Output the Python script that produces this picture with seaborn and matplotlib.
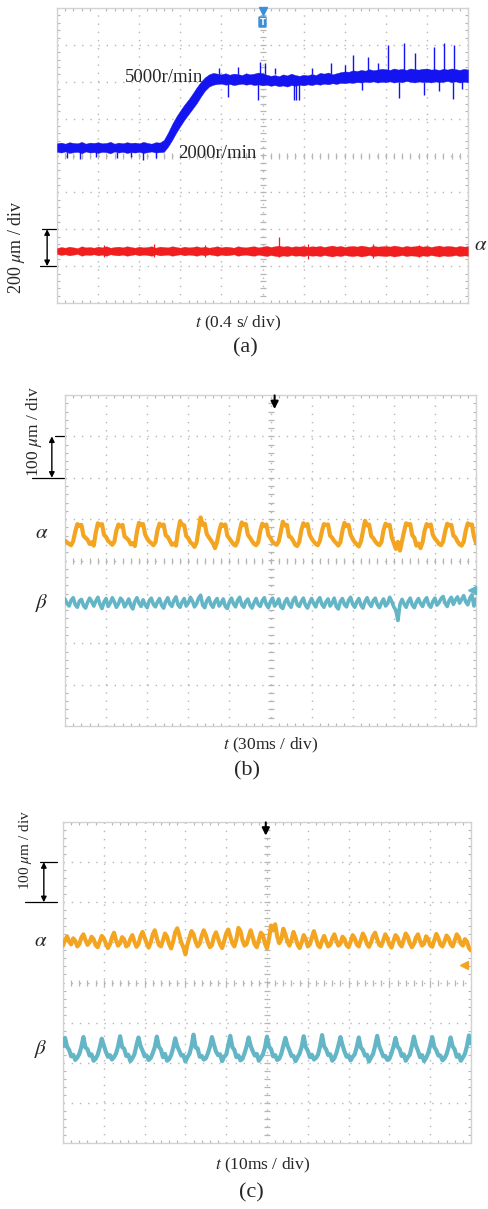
import numpy as np
import pandas as pd
import matplotlib
matplotlib.use("Agg")
import matplotlib.pyplot as plt
from matplotlib.ticker import MultipleLocator
import seaborn as sns

# ---------------- data (screen divisions) ----------------
# panel (a): 10 div x 8 div, samples every 0.1 div
t_a = [round(0.1 * i, 1) for i in range(101)]
blue_hi = [0.33,0.35,0.32,0.36,0.34,0.33,0.37,0.32,0.35,0.34,
           0.36,0.33,0.34,0.37,0.32,0.35,0.33,0.36,0.34,0.35,
           0.33,0.37,0.34,0.32,0.36,0.35,0.42,0.62,0.85,1.05,
           1.22,1.38,1.52,1.68,1.85,2.00,2.12,2.20,2.24,2.22,
           2.20,2.23,2.19,2.22,2.21,2.18,2.23,2.20,2.22,2.25,
           2.23,2.19,2.16,2.18,2.15,2.20,2.17,2.22,2.18,2.16,
           2.19,2.17,2.21,2.18,2.24,2.22,2.25,2.20,2.23,2.26,
           2.28,2.27,2.31,2.29,2.32,2.30,2.34,2.31,2.33,2.35,
           2.34,2.32,2.36,2.33,2.35,2.32,2.36,2.34,2.33,2.35,
           2.36,2.33,2.34,2.32,2.35,2.33,2.36,2.34,2.32,2.35,
           2.33]
blue_lo = [0.10,0.08,0.11,0.07,0.09,0.10,0.06,0.11,0.08,0.09,
           0.07,0.10,0.09,0.06,0.11,0.08,0.10,0.07,0.09,0.08,
           0.10,0.07,0.09,0.11,0.08,0.09,0.10,0.24,0.42,0.62,
           0.80,0.97,1.12,1.27,1.42,1.60,1.76,1.87,1.92,1.94,
           1.95,1.92,1.94,1.91,1.93,1.95,1.92,1.94,1.91,1.93,
           1.90,1.92,1.89,1.91,1.88,1.90,1.87,1.91,1.89,1.92,
           1.90,1.93,1.91,1.94,1.92,1.95,1.93,1.96,1.94,1.97,
           1.96,1.98,1.97,1.99,1.98,2.00,1.99,2.01,1.98,2.00,
           1.99,2.01,1.98,2.00,1.99,2.02,2.00,1.98,2.01,1.99,
           2.00,1.98,2.01,1.99,2.00,2.02,1.99,2.01,1.98,2.00,
           1.99]
spike_x  = [0.25, 0.55, 0.95, 1.45, 1.80, 2.10, 2.40, 3.93, 4.17, 4.40, 4.88, 4.95, 5.05,
            5.30, 5.76, 5.82, 5.88, 6.20, 6.66, 7.00, 7.20, 7.43, 7.56, 7.80, 8.05, 8.32,
            8.44, 8.70, 8.93, 9.17, 9.30, 9.42, 9.63, 9.66, 9.85]
spike_lo = [-0.06, -0.10, -0.05, -0.08, -0.04, -0.12, -0.06, 2.20, 1.58, 2.20, 1.50, 2.20, 2.20,
            2.20, 1.50, 1.50, 1.50, 2.20, 2.20, 2.25, 2.30, 1.77, 2.30, 2.30, 2.30, 1.55,
            2.30, 2.30, 1.63, 2.30, 1.75, 2.30, 1.52, 2.30, 1.80]
spike_hi = [0.10, 0.10, 0.10, 0.10, 0.10, 0.10, 0.10, 2.37, 2.00, 2.40, 2.00, 2.53, 2.50,
            2.38, 2.00, 2.00, 2.00, 2.36, 2.50, 2.45, 2.72, 2.00, 2.67, 2.52, 3.00, 2.00,
            3.05, 2.77, 2.00, 2.94, 2.05, 3.05, 2.00, 3.00, 2.05]
red_hi = [-2.51,-2.48,-2.50,-2.47,-2.49,-2.51,-2.46,-2.49,-2.48,-2.50,
          -2.47,-2.49,-2.46,-2.50,-2.48,-2.47,-2.49,-2.46,-2.48,-2.50,
          -2.47,-2.49,-2.48,-2.46,-2.50,-2.47,-2.48,-2.49,-2.46,-2.48,
          -2.50,-2.47,-2.49,-2.48,-2.46,-2.49,-2.47,-2.50,-2.48,-2.46,
          -2.49,-2.47,-2.48,-2.50,-2.46,-2.48,-2.49,-2.47,-2.46,-2.49,
          -2.47,-2.45,-2.48,-2.46,-2.44,-2.47,-2.45,-2.48,-2.46,-2.47,
          -2.45,-2.48,-2.46,-2.47,-2.45,-2.48,-2.46,-2.44,-2.47,-2.45,
          -2.48,-2.46,-2.45,-2.47,-2.44,-2.46,-2.48,-2.45,-2.47,-2.46,
          -2.45,-2.47,-2.44,-2.46,-2.48,-2.45,-2.47,-2.46,-2.44,-2.47,
          -2.45,-2.48,-2.46,-2.44,-2.47,-2.45,-2.46,-2.48,-2.45,-2.47,
          -2.46]
red_lo = [-2.67,-2.70,-2.68,-2.71,-2.69,-2.67,-2.72,-2.69,-2.70,-2.68,
          -2.71,-2.69,-2.72,-2.68,-2.70,-2.71,-2.69,-2.72,-2.70,-2.68,
          -2.71,-2.69,-2.70,-2.72,-2.68,-2.71,-2.70,-2.69,-2.72,-2.70,
          -2.68,-2.71,-2.69,-2.70,-2.72,-2.69,-2.71,-2.68,-2.70,-2.72,
          -2.69,-2.71,-2.70,-2.68,-2.72,-2.70,-2.69,-2.71,-2.72,-2.69,
          -2.71,-2.73,-2.70,-2.72,-2.74,-2.71,-2.73,-2.70,-2.72,-2.71,
          -2.73,-2.70,-2.72,-2.71,-2.73,-2.70,-2.72,-2.74,-2.71,-2.73,
          -2.70,-2.72,-2.73,-2.71,-2.74,-2.72,-2.70,-2.73,-2.71,-2.72,
          -2.73,-2.71,-2.74,-2.72,-2.70,-2.73,-2.71,-2.72,-2.74,-2.71,
          -2.73,-2.70,-2.72,-2.74,-2.71,-2.73,-2.72,-2.70,-2.73,-2.71,
          -2.72]
red_spike_x = [1.15, 2.35, 3.60, 5.40, 6.10, 7.70, 8.80]
red_spike_lo = [-2.74, -2.76, -2.75, -2.75, -2.80, -2.78, -2.76]
red_spike_hi = [-2.42, -2.40, -2.43, -2.22, -2.40, -2.41, -2.42]

# panels (b), (c): samples every 0.05 div
t_bc = [round(0.05 * i, 2) for i in range(201)]
alpha_b = [0.48,0.44,0.40,0.37,0.47,0.70,
           0.88,0.84,0.86,0.60,0.55,0.50,0.40,0.44,0.36,0.68,
           0.90,0.85,0.88,0.62,0.57,0.47,0.43,0.38,0.45,0.72,
           0.87,0.82,0.86,0.58,0.54,0.49,0.39,0.42,0.35,0.69,
           0.91,0.86,0.88,0.63,0.53,0.46,0.42,0.37,0.44,0.73,
           0.89,0.84,0.87,0.61,0.57,0.48,0.38,0.41,0.36,0.70,
           0.95,0.87,0.85,0.59,0.54,0.44,0.40,0.33,0.43,0.74,
           1.04,0.86,0.89,0.64,0.56,0.49,0.41,0.30,0.45,0.70,
           0.88,0.84,0.87,0.60,0.53,0.46,0.39,0.36,0.47,0.72,
           0.92,0.86,0.88,0.62,0.55,0.47,0.40,0.37,0.44,0.71,
           0.89,0.83,0.87,0.61,0.54,0.45,0.41,0.38,0.46,0.69,
           0.94,0.85,0.86,0.58,0.56,0.48,0.38,0.35,0.45,0.73,
           0.90,0.84,0.88,0.63,0.53,0.46,0.40,0.37,0.47,0.70,
           0.88,0.86,0.87,0.60,0.55,0.47,0.42,0.36,0.44,0.72,
           0.91,0.83,0.86,0.62,0.52,0.44,0.39,0.34,0.46,0.71,
           0.96,0.85,0.87,0.59,0.54,0.46,0.40,0.37,0.45,0.73,
           0.89,0.84,0.86,0.56,0.42,0.28,0.45,0.24,0.47,0.70,
           0.90,0.86,0.88,0.61,0.55,0.36,0.41,0.30,0.44,0.72,
           0.88,0.83,0.87,0.62,0.53,0.47,0.40,0.37,0.46,0.71,
           0.89,0.85,0.86,0.60,0.56,0.46,0.39,0.36,0.45,0.72,
           0.90,0.86,0.87,0.58,0.42]
beta_b = [-0.93,-1.04,-1.10,-0.96,-0.90,-1.07,-1.13,-0.98,-0.94,-1.09,
          -1.15,-1.01,-0.91,-0.99,-1.10,-0.98,-0.89,-1.06,-1.16,-1.00,
          -0.92,-1.11,-1.03,-0.90,-1.00,-1.13,-1.05,-0.91,-0.97,-1.12,
          -1.04,-0.93,-1.09,-1.17,-0.99,-0.90,-1.03,-1.11,-0.95,-1.07,
          -1.14,-0.97,-0.91,-1.06,-1.12,-1.00,-0.92,-1.08,-1.15,-0.99,
          -0.90,-1.05,-1.11,-0.96,-0.88,-1.07,-1.13,-1.00,-0.92,-1.10,
          -1.03,-0.89,-0.98,-1.12,-1.05,-0.91,-0.84,-1.08,-1.14,-0.97,
          -0.90,-1.06,-1.13,-0.99,-0.92,-1.10,-1.03,-0.93,-1.11,-1.16,
          -1.00,-0.91,-1.05,-1.12,-0.96,-0.89,-1.07,-1.13,-0.99,-0.93,
          -1.08,-1.15,-1.02,-0.92,-1.06,-1.11,-0.97,-0.90,-1.07,-1.14,
          -0.99,-0.91,-1.10,-1.04,-0.93,-1.12,-1.16,-1.00,-0.92,-1.06,
          -1.13,-0.96,-0.89,-1.07,-1.11,-0.99,-0.91,-1.08,-1.15,-1.02,
          -0.92,-1.04,-1.12,-0.97,-0.90,-1.06,-1.13,-1.00,-0.93,-1.10,
          -1.03,-0.91,-1.11,-1.17,-0.99,-0.92,-1.07,-1.12,-0.96,-0.89,
          -1.06,-1.13,-1.00,-0.92,-1.08,-1.15,-0.99,-0.90,-1.04,-1.11,
          -0.97,-0.91,-1.07,-1.14,-1.02,-0.93,-1.10,-1.04,-0.89,-0.99,
          -1.12,-1.20,-1.45,-1.06,-0.94,-1.05,-1.13,-0.99,-0.91,-1.08,
          -1.14,-1.00,-0.92,-1.04,-1.11,-0.97,-0.90,-1.07,-1.13,-0.99,
          -0.91,-1.08,-1.02,-0.92,-0.87,-1.04,-1.11,-0.96,-0.89,-1.06,
          -0.95,-0.88,-1.03,-0.94,-0.85,-1.00,-1.07,-0.91,-0.83,-1.10,
          -0.93]
alpha_c = [0.92,1.05,1.15,1.02,0.95,1.10,1.04,0.90,0.96,1.12,
           1.20,1.06,0.94,1.00,1.14,1.08,0.93,0.88,1.02,1.16,
           1.10,0.97,0.86,0.95,1.12,1.24,1.05,0.92,0.98,1.13,
           1.07,0.90,0.94,1.08,1.18,1.02,0.89,0.96,1.15,1.26,
           1.12,0.98,0.87,1.00,1.20,1.30,1.10,0.94,0.90,1.05,
           1.22,1.14,0.96,0.85,1.02,1.25,1.35,1.18,0.99,0.88,
           0.70,0.95,1.12,1.28,1.20,1.02,0.90,0.97,1.16,1.30,
           1.18,1.00,0.88,0.93,1.14,1.25,1.10,0.95,0.86,1.03,
           1.22,1.32,1.15,0.98,0.90,1.08,1.36,1.28,1.05,0.92,
           0.96,1.14,1.30,1.12,0.95,0.88,1.06,1.24,1.18,0.97,
           0.85,1.10,1.42,1.30,1.45,1.15,0.98,1.08,1.34,1.20,
           1.02,0.92,1.06,1.26,1.12,0.94,0.86,1.00,1.18,1.08,
           0.90,0.95,1.12,1.28,1.10,0.93,0.88,1.04,1.16,1.02,
           0.90,0.94,1.10,1.20,1.05,0.92,0.97,1.14,1.08,0.93,
           0.88,1.02,1.18,1.10,0.95,0.90,1.06,1.22,1.12,0.96,
           0.89,1.00,1.16,1.24,1.08,0.94,0.91,1.05,1.20,1.10,
           0.95,0.87,1.03,1.18,1.12,0.96,0.90,1.06,1.22,1.14,
           0.98,0.88,0.96,1.12,1.20,1.04,0.92,0.97,1.15,1.08,
           0.93,0.89,1.05,1.21,1.10,0.95,0.90,1.02,1.17,1.11,
           0.96,0.90,1.04,1.20,1.13,0.97,0.92,1.08,1.02,0.86,
           0.80]
beta_c = [-1.58,
          -1.38,-1.60,-1.68,-1.84,-1.80,-1.93,-1.87,-1.78,-1.60,
          -1.36,-1.62,-1.66,-1.82,-1.79,-1.95,-1.90,-1.80,-1.62,
          -1.40,-1.57,-1.72,-1.85,-1.81,-1.92,-1.86,-1.77,-1.59,
          -1.34,-1.61,-1.65,-1.83,-1.80,-1.96,-1.89,-1.79,-1.57,
          -1.37,-1.58,-1.70,-1.84,-1.82,-1.93,-1.88,-1.76,-1.61,
          -1.35,-1.60,-1.67,-1.86,-1.78,-1.95,-1.91,-1.81,-1.63,
          -1.39,-1.59,-1.70,-1.82,-1.81,-1.97,-1.86,-1.78,-1.58,
          -1.30,-1.62,-1.64,-1.85,-1.83,-1.92,-1.89,-1.77,-1.60,
          -1.36,-1.55,-1.72,-1.81,-1.79,-1.96,-1.85,-1.80,-1.57,
          -1.33,-1.61,-1.68,-1.86,-1.82,-1.94,-1.90,-1.76,-1.59,
          -1.37,-1.58,-1.71,-1.82,-1.78,-1.95,-1.87,-1.79,-1.62,
          -1.35,-1.60,-1.66,-1.84,-1.81,-1.93,-1.90,-1.78,-1.58,
          -1.38,-1.57,-1.69,-1.83,-1.83,-1.96,-1.86,-1.77,-1.60,
          -1.34,-1.61,-1.70,-1.86,-1.80,-1.92,-1.88,-1.80,-1.59,
          -1.31,-1.59,-1.67,-1.81,-1.79,-1.95,-1.89,-1.76,-1.57,
          -1.36,-1.56,-1.72,-1.85,-1.82,-1.94,-1.85,-1.79,-1.61,
          -1.37,-1.62,-1.68,-1.82,-1.80,-1.97,-1.87,-1.78,-1.58,
          -1.33,-1.58,-1.71,-1.84,-1.83,-1.93,-1.90,-1.77,-1.60,
          -1.38,-1.60,-1.66,-1.83,-1.79,-1.95,-1.86,-1.80,-1.59,
          -1.35,-1.57,-1.70,-1.86,-1.81,-1.96,-1.88,-1.76,-1.57,
          -1.36,-1.61,-1.69,-1.82,-1.82,-1.94,-1.89,-1.79,-1.61,
          -1.37,-1.59,-1.67,-1.85,-1.80,-1.95,-1.87,-1.78,-1.59,
          -1.32,-1.52]

speed_labels = ["5000r/min", "2000r/min"]
scale_labels = ["200 $\\mu$m / div", "100 $\\mu$m / div", "100 $\\mu$m / div"]
time_labels = ["$t$ (0.4 s/ div)", "$t$ (30ms / div)", "$t$ (10ms / div)"]
panel_labels = ["(a)", "(b)", "(c)"]

# ---------------- style ----------------
sns.set_theme(style="white")
plt.rcParams['font.family'] = ['Liberation Serif', 'DejaVu Serif']
plt.rcParams['mathtext.fontset'] = 'stix'

BLUE = '#1414F0'
RED = '#F01E1E'
ORANGE = '#F3A522'
TEAL = '#64B6C7'
GRID = '#b6b6b6'

W, H = 488, 1209
fig = plt.figure(figsize=(W / 100, H / 100), dpi=100)
fig.patch.set_facecolor('white')


def box(l, t, r, b):
    return [l / W, 1 - b / H, (r - l) / W, (b - t) / H]


def fx(px):
    return px / W


def fy(py):
    return 1 - py / H


ax_a = fig.add_axes(box(57, 8, 468, 303))
ax_b = fig.add_axes(box(65, 395, 476, 726))
ax_c = fig.add_axes(box(63, 822, 471, 1143))


def scope(ax):
    ax.set_xlim(0, 10)
    ax.set_ylim(-4, 4)
    ax.set_xticks(range(0, 11))
    ax.set_yticks(range(-4, 5))
    ax.xaxis.set_minor_locator(MultipleLocator(0.2))
    ax.yaxis.set_minor_locator(MultipleLocator(0.2))
    ax.grid(True, which='major', color=GRID, linestyle=(0, (1, 4.9)), linewidth=1.0)
    ax.tick_params(which='both', direction='in', top=True, right=True,
                   bottom=True, left=True, labelbottom=False, labelleft=False,
                   color=GRID)
    ax.tick_params(which='major', length=0)
    ax.tick_params(which='minor', length=2.5, width=0.8)
    for s in ax.spines.values():
        s.set_color('#d2d2d2')
        s.set_linewidth(1.0)
    xs = np.arange(0.2, 10, 0.2)
    ys = np.arange(-3.8, 4, 0.2)
    ax.plot(xs, np.zeros_like(xs), ls='none', marker='|', ms=4, mew=0.9, color=GRID, zorder=1)
    ax.plot(np.full_like(ys, 5.0), ys, ls='none', marker='_', ms=4, mew=0.9, color=GRID, zorder=1)


for ax in (ax_a, ax_b, ax_c):
    scope(ax)

# ---------------- panel (a) ----------------
ax_a.fill_between(t_a, blue_lo, blue_hi, color=BLUE, lw=0.3, edgecolor=BLUE, zorder=3)
ax_a.vlines(spike_x, spike_lo, spike_hi, color=BLUE, lw=1.0, zorder=3)
ax_a.fill_between(t_a, red_lo, red_hi, color=RED, lw=0.2, edgecolor=RED, zorder=3)
ax_a.vlines(red_spike_x, red_spike_lo, red_spike_hi, color=RED, lw=0.9, zorder=3)
sns.lineplot(x=t_a, y=[(h + l) / 2 for h, l in zip(red_hi, red_lo)], ax=ax_a,
             color=RED, lw=0.5, zorder=3)

ax_a.text(1.66, 2.12, speed_labels[0], fontsize=13.5, ha='left', va='center', zorder=4)
ax_a.text(2.95, 0.05, speed_labels[1], fontsize=13.5, ha='left', va='center', zorder=4)

# trigger marker
ax_a.plot([5.0], [3.93], marker='v', ms=6, color='#3a8fd8', clip_on=False, zorder=5)
ax_a.text(5.0, 3.62, 'T', fontsize=6, color='white', ha='center', va='center',
          fontweight='bold', family='DejaVu Sans',
          bbox=dict(boxstyle='round,pad=0.15', fc='#3a8fd8', ec='none'), zorder=5)

# scale arrow (a)
ax_a.annotate('', xy=(-0.24, -2.0), xytext=(-0.24, -3.0),
              arrowprops=dict(arrowstyle='<|-|>', color='black', lw=1.0,
                              mutation_scale=8, shrinkA=0, shrinkB=0),
              annotation_clip=False)
ax_a.plot([-0.37, 0], [-2.0, -2.0], color='black', lw=0.9, clip_on=False)
ax_a.plot([-0.42, 0], [-3.0, -3.0], color='black', lw=0.9, clip_on=False)

# ---------------- panel (b) ----------------
sns.lineplot(x=t_bc, y=alpha_b, ax=ax_b, color=ORANGE, lw=3.0, zorder=3)
sns.lineplot(x=t_bc, y=beta_b, ax=ax_b, color=TEAL, lw=2.6, zorder=3)
ax_b.annotate('', xy=(5.1, 3.66), xytext=(5.1, 3.99),
              arrowprops=dict(arrowstyle='-|>', color='black', lw=1.5,
                              mutation_scale=11, shrinkA=0, shrinkB=0))
ax_b.plot([9.9], [-0.71], marker='<', ms=6, color=TEAL, clip_on=False, zorder=4)
ax_b.annotate('', xy=(-0.32, 3.0), xytext=(-0.32, 2.0),
              arrowprops=dict(arrowstyle='<|-|>', color='black', lw=1.0,
                              mutation_scale=8, shrinkA=0, shrinkB=0),
              annotation_clip=False)
ax_b.plot([-0.24, 0], [3.0, 3.0], color='black', lw=0.9, clip_on=False)
ax_b.plot([-0.80, 0], [2.0, 2.0], color='black', lw=0.9, clip_on=False)

# ---------------- panel (c) ----------------
sns.lineplot(x=t_bc, y=alpha_c, ax=ax_c, color=ORANGE, lw=3.0, zorder=3)
sns.lineplot(x=t_bc, y=beta_c, ax=ax_c, color=TEAL, lw=3.0, zorder=3)
ax_c.annotate('', xy=(4.97, 3.66), xytext=(4.97, 3.99),
              arrowprops=dict(arrowstyle='-|>', color='black', lw=1.5,
                              mutation_scale=11, shrinkA=0, shrinkB=0))
ax_c.plot([9.82], [0.44], marker='<', ms=6, color=ORANGE, clip_on=False, zorder=4)
ax_c.annotate('', xy=(-0.47, 3.0), xytext=(-0.47, 2.0),
              arrowprops=dict(arrowstyle='<|-|>', color='black', lw=1.0,
                              mutation_scale=8, shrinkA=0, shrinkB=0),
              annotation_clip=False)
ax_c.plot([-0.56, -0.15], [3.0, 3.0], color='black', lw=0.9, clip_on=False)
ax_c.plot([-0.93, -0.15], [2.0, 2.0], color='black', lw=0.9, clip_on=False)

for ax in (ax_a, ax_b, ax_c):
    ax.set_xlabel('')
    ax.set_ylabel('')
    ax.set_xlim(0, 10)
    ax.set_ylim(-4, 4)

# ---------------- outside texts ----------------
fig.text(fx(17), fy(247), scale_labels[0], rotation=90, fontsize=13, ha='center', va='center')
fig.text(fx(34), fy(432), scale_labels[1], rotation=90, fontsize=12.5, ha='center', va='center')
fig.text(fx(26), fy(850), scale_labels[2], rotation=90, fontsize=11, ha='center', va='center')

fig.text(fx(481), fy(245), '$\\alpha$', fontsize=15, ha='center', va='center')
fig.text(fx(42), fy(533), '$\\alpha$', fontsize=15, ha='center', va='center')
fig.text(fx(42), fy(603), '$\\beta$', fontsize=15, ha='center', va='center')
fig.text(fx(41), fy(942), '$\\alpha$', fontsize=15, ha='center', va='center')
fig.text(fx(41), fy(1049), '$\\beta$', fontsize=15, ha='center', va='center')

fig.text(fx(238), fy(323), time_labels[0], fontsize=12.5, ha='center', va='center')
fig.text(fx(271), fy(745), time_labels[1], fontsize=12.5, ha='center', va='center')
fig.text(fx(263), fy(1165), time_labels[2], fontsize=12.5, ha='center', va='center')

fig.text(fx(245), fy(348), panel_labels[0], fontsize=16, ha='center', va='center')
fig.text(fx(247), fy(771), panel_labels[1], fontsize=16, ha='center', va='center')
fig.text(fx(251), fy(1193), panel_labels[2], fontsize=16, ha='center', va='center')

fig.savefig('out.png', dpi=100, facecolor='white')
